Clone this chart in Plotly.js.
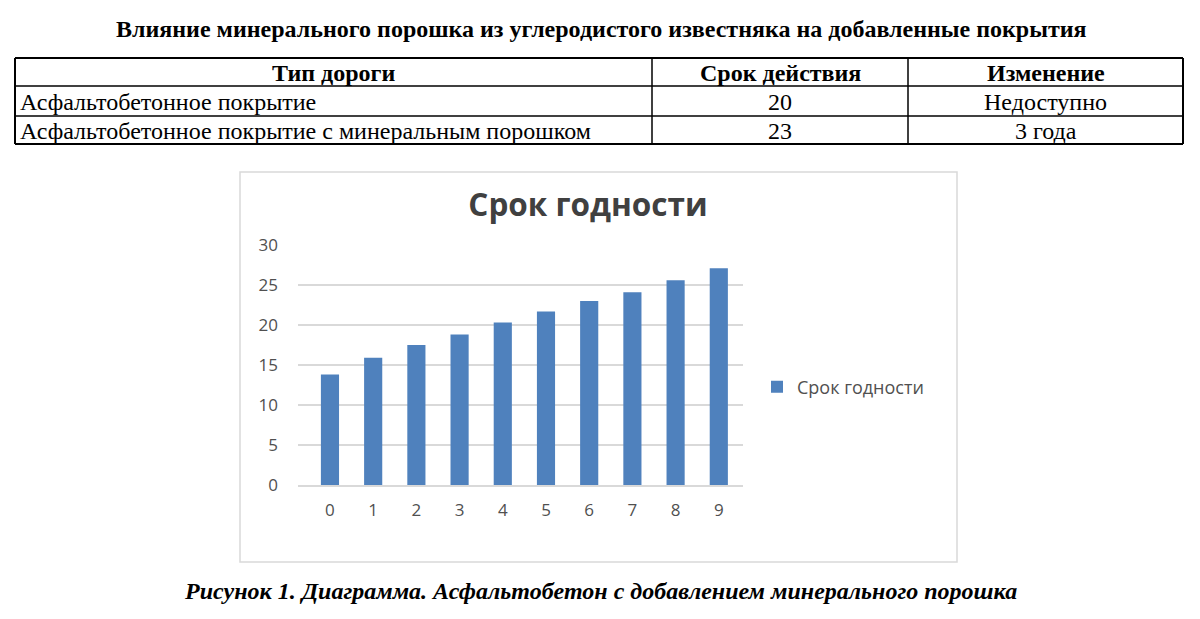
<!DOCTYPE html>
<html>
<head>
<meta charset="utf-8">
<script src="https://cdn.plot.ly/plotly-3.0.1.min.js"></script>
<style>html,body{margin:0;padding:0;background:#fff;}#chart{width:1200px;height:619px;}</style>
</head>
<body>
<div id="chart"></div>
<script>
// ---- data ----
const pageTitle = "Влияние минерального порошка из углеродистого известняка на добавленные покрытия";
const tableHeader = ["Тип дороги", "Срок действия", "Изменение"];
const roadTypes = ["Асфальтобетонное покрытие", "Асфальтобетонное покрытие с минеральным порошком"];
const serviceLife = ["20", "23"];
const changeText = ["Недоступно", "3 года"];

const chartTitle = "Срок годности";
const seriesName = "Срок годности";
const categories = ["0", "1", "2", "3", "4", "5", "6", "7", "8", "9"];
const values = [13.8, 15.9, 17.5, 18.8, 20.3, 21.7, 23.0, 24.1, 25.6, 27.1];
const caption = "Рисунок 1. Диаграмма. Асфальтобетон с добавлением минерального порошка";

// ---- layout helpers (pixel -> paper) ----
const W = 1200, H = 619;
const px = x => x / W;
const py = y => 1 - y / H;

const serif = "'Liberation Serif', 'Times New Roman', serif";
const sans = "'Open Sans', 'Noto Sans', sans-serif";

// table geometry (page layout, pixels)
const colEdges = [15, 652, 908, 1183];
const rowEdges = [58, 86, 116, 144];

const shapes = [];
const annotations = [];

// table grid lines
colEdges.forEach((c, i) => {
  const outer = (i === 0 || i === colEdges.length - 1);
  shapes.push({type: "line", xref: "paper", yref: "paper",
    x0: px(c), x1: px(c), y0: py(rowEdges[0]), y1: py(rowEdges[rowEdges.length - 1]),
    line: {color: "#000", width: outer ? 2 : 1.5}});
});
rowEdges.forEach((r, i) => {
  const outer = (i === 0 || i === rowEdges.length - 1);
  shapes.push({type: "line", xref: "paper", yref: "paper",
    x0: px(colEdges[0]), x1: px(colEdges[colEdges.length - 1]), y0: py(r), y1: py(r),
    line: {color: "#000", width: outer ? 2 : 1.5}});
});

// table text
function cellText(text, row, col, align) {
  const yc = (rowEdges[row] + rowEdges[row + 1]) / 2;
  const left = align === "left";
  annotations.push({text: text, xref: "paper", yref: "paper",
    x: left ? px(colEdges[col] + 3) : px((colEdges[col] + colEdges[col + 1]) / 2),
    y: py(yc + 1), xanchor: left ? "left" : "center", yanchor: "middle",
    showarrow: false, font: {family: serif, size: 24, color: "#000"}});
}
tableHeader.forEach((h, c) => cellText("<b>" + h + "</b>", 0, c, "center"));
const columns = [roadTypes, serviceLife, changeText];
columns.forEach((col, c) => col.forEach((v, r) => cellText(v, r + 1, c, c === 0 ? "left" : "center")));

// chart frame
shapes.push({type: "rect", xref: "paper", yref: "paper",
  x0: px(240), x1: px(957), y0: py(562), y1: py(172),
  line: {color: "#D9D9D9", width: 1.5}, fillcolor: "rgba(0,0,0,0)", layer: "below"});

annotations.push({text: "<b>" + pageTitle + "</b>", xref: "paper", yref: "paper",
  x: px(601), y: py(29), xanchor: "center", yanchor: "middle", showarrow: false,
  font: {family: serif, size: 24, color: "#000"}});
annotations.push({text: "<b><i>" + caption + "</i></b>", xref: "paper", yref: "paper",
  x: px(600), y: py(591), xanchor: "center", yanchor: "middle", showarrow: false,
  font: {family: serif, size: 24, color: "#000"}});

const barTrace = {
  type: "bar",
  x: categories,
  y: values,
  name: seriesName,
  marker: {color: "#4F81BD"},
  showlegend: true,
  hoverinfo: "x+y"
};

const layout = {
  width: W, height: H,
  margin: {l: 0, r: 0, t: 0, b: 0},
  paper_bgcolor: "#fff",
  plot_bgcolor: "#fff",
  bargap: 0.58,
  title: {
    text: "<b>" + chartTitle + "</b>",
    x: px(588), xanchor: "center",
    y: py(205), yanchor: "middle",
    font: {family: sans, size: 31.5, color: "#404040"}
  },
  xaxis: {
    domain: [px(298), px(743)],
    type: "category",
    range: [-0.74, 9.56],
    showgrid: false,
    showline: true, linecolor: "#D9D9D9", linewidth: 1.5,
    ticks: "", ticklabelstandoff: 9,
    tickfont: {family: sans, size: 17, color: "#505050"},
    fixedrange: true
  },
  yaxis: {
    domain: [py(485), py(245)],
    range: [0, 30],
    dtick: 5,
    showgrid: true, gridcolor: "#D9D9D9", gridwidth: 1.5,
    zeroline: false,
    showline: false,
    ticks: "", ticklabelstandoff: 19,
    tickfont: {family: sans, size: 17, color: "#505050"},
    fixedrange: true
  },
  legend: {
    x: px(757), xanchor: "left",
    y: py(387), yanchor: "middle",
    font: {family: sans, size: 18, color: "#505050"},
    bgcolor: "rgba(0,0,0,0)"
  },
  shapes: shapes,
  annotations: annotations
};

Plotly.newPlot("chart", [barTrace], layout, {displayModeBar: false});
</script>
</body>
</html>
